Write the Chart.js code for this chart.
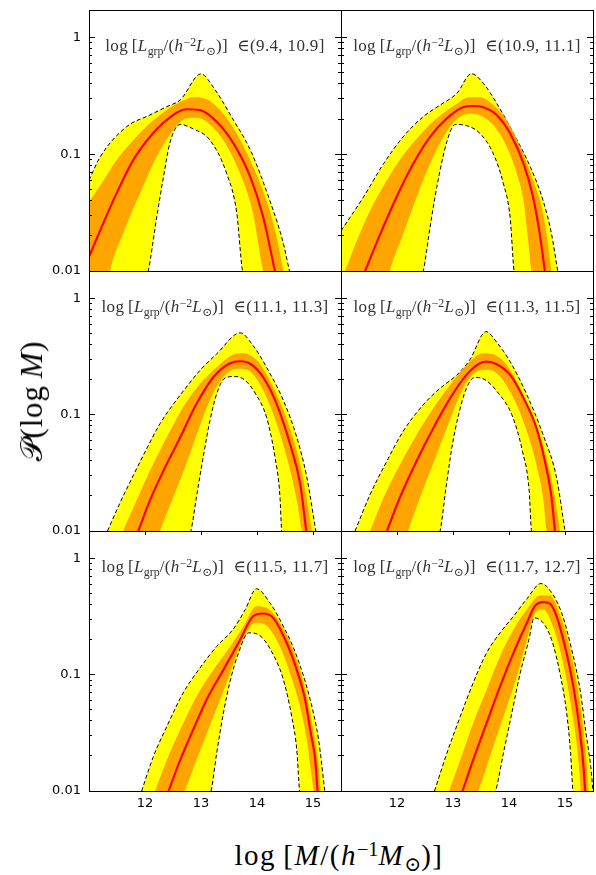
<!DOCTYPE html>
<html>
<head>
<meta charset="utf-8">
<script src="https://cdn.jsdelivr.net/npm/chart.js@4.4.0/dist/chart.umd.min.js"></script>
<style>
  html, body { margin: 0; padding: 0; background: #fff; overflow: hidden; }
  body { width: 596px; height: 875px; position: relative; }
  .panel { position: absolute; }
  .note {
    position: absolute; transform: translate(-50%, -50%);
    font-family: 'Liberation Serif', 'DejaVu Serif', serif; font-size: 17px;
    letter-spacing: 0.35px; color: #333; white-space: nowrap;
  }
  .note sub, .note sup, .xtitle sub, .xtitle sup, .ytitle sub {
    font-size: 70%; line-height: 0; position: relative; vertical-align: baseline; letter-spacing: 0;
  }
  sub { top: 0.3em; }
  sup { top: -0.45em; }
  .ytitle {
    position: absolute; left: 32px; top: 401px;
    transform: translate(-50%, -50%) rotate(-90deg);
    font-family: 'Liberation Serif', 'DejaVu Serif', serif; font-size: 31px;
    letter-spacing: 0.8px; white-space: nowrap; color: #000;
  }
  .xtitle {
    position: absolute; left: 339px; top: 855px;
    transform: translate(-50%, -50%);
    font-family: 'Liberation Serif', 'DejaVu Serif', serif; font-size: 29px;
    letter-spacing: 1.5px; white-space: nowrap; color: #000;
  }
</style>
</head>
<body>
<script>
// tick labels
const massTicks = [12, 13, 14, 15];
const probLabels = [0.01, 0.1, 1];
const lumBins = ['(9.4, 10.9]', '(10.9, 11.1]', '(11.1, 11.3]', '(11.3, 11.5]', '(11.5, 11.7]', '(11.7, 12.7]'];

// [log M, P] pairs; points below 0.01 sit under the axis
const p1YellowHi = [[11.00,0.060],[11.20,0.095],[11.67,0.172],[12.09,0.217],[12.39,0.256],[12.63,0.292],[13.00,0.488],[13.22,0.375],[13.58,0.196],[13.88,0.109],[14.23,0.040],[14.46,0.018],[14.58,0.010]];
const p1YellowLo = [[11.0,0.0001],[12.06,0.010],[12.21,0.029],[12.33,0.064],[12.45,0.128],[12.63,0.180],[12.86,0.165],[13.16,0.132],[13.46,0.068],[13.64,0.031],[13.74,0.010],[15.5,0.0001]];
const p1OrangeHi = [[11.00,0.039],[11.20,0.054],[11.49,0.089],[11.79,0.132],[12.09,0.184],[12.39,0.239],[12.68,0.288],[12.86,0.308],[13.10,0.296],[13.34,0.239],[13.58,0.167],[13.88,0.089],[14.17,0.040],[14.35,0.0196],[14.47,0.010]];
const p1OrangeLo = [[11.0,0.001],[11.375,0.010],[11.61,0.0209],[11.91,0.046],[12.21,0.095],[12.48,0.155],[12.68,0.197],[12.88,0.205],[13.08,0.193],[13.40,0.132],[13.70,0.068],[13.93,0.031],[14.11,0.010],[15.5,0.0001]];
const p1Median = [[11.00,0.0132],[11.20,0.0223],[11.49,0.046],[11.79,0.089],[12.09,0.141],[12.39,0.197],[12.74,0.243],[12.98,0.239],[13.28,0.190],[13.58,0.124],[13.88,0.064],[14.11,0.029],[14.32,0.010]];

const p2YellowHi = [[11.00,0.0221],[11.40,0.0429],[11.76,0.083],[12.11,0.141],[12.47,0.210],[12.77,0.264],[13.07,0.333],[13.33,0.490],[13.54,0.406],[13.78,0.273],[14.08,0.151],[14.38,0.078],[14.61,0.040],[14.76,0.0207],[14.87,0.010]];
const p2YellowLo = [[11.0,0.0001],[12.47,0.010],[12.59,0.0236],[12.71,0.052],[12.89,0.128],[13.04,0.180],[13.24,0.176],[13.48,0.151],[13.72,0.101],[13.90,0.056],[14.02,0.0288],[14.09,0.010],[15.5,0.0001]];
const p2OrangeHi = [[11.0,0.0085],[11.07,0.010],[11.28,0.018],[11.52,0.033],[11.82,0.060],[12.11,0.098],[12.41,0.146],[12.71,0.203],[13.01,0.259],[13.30,0.308],[13.48,0.308],[13.72,0.264],[13.96,0.196],[14.20,0.116],[14.43,0.060],[14.61,0.031],[14.76,0.010]];
const p2OrangeLo = [[11.0,0.0001],[11.875,0.010],[12.11,0.0207],[12.35,0.0429],[12.59,0.083],[12.83,0.141],[13.07,0.200],[13.30,0.222],[13.48,0.215],[13.72,0.178],[13.96,0.116],[14.14,0.068],[14.26,0.040],[14.33,0.0207],[14.40,0.010],[15.5,0.0001]];
const p2Median = [[11.43,0.010],[11.70,0.0207],[11.99,0.0429],[12.29,0.083],[12.59,0.141],[12.89,0.203],[13.18,0.253],[13.36,0.259],[13.54,0.253],[13.78,0.217],[14.02,0.151],[14.26,0.083],[14.43,0.0429],[14.55,0.0207],[14.64,0.010]];

const p3YellowHi = [[11.33,0.010],[11.55,0.0173],[11.79,0.030],[12.03,0.051],[12.27,0.084],[12.51,0.124],[12.74,0.173],[12.98,0.240],[13.28,0.333],[13.70,0.505],[13.93,0.393],[14.17,0.256],[14.47,0.133],[14.71,0.064],[14.89,0.029],[15.05,0.010]];
const p3YellowLo = [[11.0,0.0001],[12.82,0.010],[12.92,0.0197],[13.04,0.0434],[13.16,0.089],[13.28,0.151],[13.43,0.207],[13.61,0.213],[13.79,0.197],[13.99,0.147],[14.17,0.095],[14.32,0.0434],[14.41,0.0197],[14.44,0.010],[15.5,0.0001]];
const p3OrangeHi = [[11.61,0.010],[11.85,0.0184],[12.09,0.033],[12.39,0.064],[12.68,0.116],[12.98,0.184],[13.28,0.256],[13.58,0.329],[13.76,0.338],[14.00,0.292],[14.23,0.197],[14.47,0.109],[14.71,0.049],[14.86,0.0225],[14.98,0.010]];
const p3OrangeLo = [[11.0,0.0001],[12.27,0.010],[12.51,0.0197],[12.74,0.038],[12.95,0.073],[13.13,0.124],[13.31,0.184],[13.49,0.232],[13.67,0.248],[13.85,0.240],[14.05,0.184],[14.29,0.102],[14.53,0.0434],[14.71,0.0184],[14.80,0.010],[15.5,0.0001]];
const p3Median = [[11.88,0.010],[12.09,0.0184],[12.33,0.033],[12.63,0.064],[12.92,0.124],[13.22,0.210],[13.52,0.277],[13.70,0.288],[13.88,0.274],[14.11,0.210],[14.35,0.124],[14.59,0.056],[14.77,0.0256],[14.88,0.010]];

const p4YellowHi = [[11.25,0.010],[11.52,0.0206],[11.82,0.040],[12.11,0.072],[12.47,0.122],[12.77,0.169],[13.07,0.220],[13.30,0.296],[13.59,0.518],[13.78,0.420],[14.02,0.286],[14.32,0.148],[14.61,0.067],[14.85,0.0287],[15.00,0.010]];
const p4YellowLo = [[11.0,0.0001],[12.77,0.010],[12.875,0.0235],[12.98,0.052],[13.10,0.100],[13.24,0.169],[13.39,0.209],[13.57,0.200],[13.81,0.153],[14.05,0.100],[14.24,0.0485],[14.36,0.022],[14.40,0.010],[15.5,0.0001]];
const p4OrangeHi = [[11.52,0.010],[11.76,0.0193],[12.05,0.037],[12.35,0.067],[12.65,0.114],[12.95,0.181],[13.24,0.268],[13.54,0.338],[13.72,0.331],[13.96,0.268],[14.20,0.169],[14.43,0.094],[14.67,0.0425],[14.82,0.0193],[14.91,0.010]];
const p4OrangeLo = [[11.0,0.0001],[12.20,0.010],[12.41,0.0193],[12.65,0.0385],[12.89,0.077],[13.10,0.139],[13.27,0.200],[13.45,0.238],[13.63,0.243],[13.84,0.213],[14.08,0.139],[14.32,0.072],[14.49,0.037],[14.61,0.0193],[14.67,0.010],[15.5,0.0001]];
const p4Median = [[11.82,0.010],[12.05,0.0193],[12.35,0.040],[12.65,0.077],[12.95,0.139],[13.24,0.220],[13.48,0.277],[13.60,0.286],[13.78,0.272],[14.02,0.220],[14.26,0.139],[14.49,0.077],[14.64,0.040],[14.76,0.0193],[14.82,0.010]];

const p5YellowHi = [[11.94,0.010],[12.15,0.0198],[12.39,0.0359],[12.68,0.0695],[12.98,0.114],[13.28,0.175],[13.58,0.248],[13.79,0.363],[13.99,0.548],[14.23,0.415],[14.47,0.261],[14.71,0.144],[14.95,0.061],[15.10,0.0275],[15.21,0.010]];
const p5YellowLo = [[11.0,0.0001],[13.18,0.010],[13.28,0.0211],[13.40,0.0467],[13.52,0.088],[13.67,0.154],[13.85,0.229],[14.05,0.217],[14.29,0.149],[14.47,0.091],[14.62,0.0437],[14.71,0.0226],[14.76,0.010],[15.5,0.0001]];
const p5OrangeHi = [[12.18,0.010],[12.39,0.0185],[12.63,0.0336],[12.92,0.065],[13.22,0.110],[13.52,0.175],[13.76,0.261],[13.99,0.388],[14.17,0.376],[14.41,0.279],[14.62,0.175],[14.80,0.097],[14.95,0.0467],[15.07,0.0211],[15.14,0.010]];
const p5OrangeLo = [[11.0,0.0001],[12.71,0.010],[12.92,0.0185],[13.13,0.0336],[13.34,0.061],[13.52,0.103],[13.67,0.164],[13.82,0.236],[13.99,0.279],[14.17,0.264],[14.41,0.175],[14.59,0.103],[14.77,0.053],[14.89,0.0275],[14.96,0.0152],[15.01,0.010],[15.5,0.0001]];
const p5Median = [[12.42,0.010],[12.63,0.0185],[12.86,0.0336],[13.10,0.061],[13.40,0.110],[13.70,0.200],[13.93,0.318],[14.11,0.336],[14.29,0.308],[14.53,0.188],[14.71,0.110],[14.86,0.061],[14.96,0.0314],[15.04,0.0185],[15.08,0.010]];

const p6YellowHi = [[12.67,0.010],[12.89,0.0211],[13.13,0.0437],[13.36,0.085],[13.60,0.154],[13.84,0.229],[14.08,0.318],[14.32,0.449],[14.57,0.608],[14.73,0.533],[14.94,0.340],[15.12,0.164],[15.27,0.074],[15.375,0.0314],[15.46,0.0162],[15.50,0.010]];
const p6YellowLo = [[11.0,0.0001],[13.76,0.010],[13.90,0.0211],[14.05,0.0467],[14.20,0.103],[14.35,0.195],[14.45,0.308],[14.61,0.279],[14.76,0.200],[14.91,0.103],[15.03,0.0467],[15.10,0.0211],[15.14,0.010],[15.6,0.0001]];
const p6OrangeHi = [[12.93,0.010],[13.13,0.0185],[13.36,0.0383],[13.60,0.074],[13.84,0.144],[14.08,0.244],[14.32,0.363],[14.55,0.480],[14.73,0.480],[14.91,0.329],[15.08,0.175],[15.22,0.079],[15.33,0.0336],[15.39,0.0162],[15.42,0.010]];
const p6OrangeLo = [[11.0,0.0001],[13.45,0.010],[13.66,0.0198],[13.90,0.0437],[14.14,0.097],[14.32,0.200],[14.46,0.336],[14.61,0.363],[14.76,0.279],[14.94,0.144],[15.09,0.061],[15.20,0.0275],[15.26,0.0142],[15.28,0.010],[15.6,0.0001]];
const p6Median = [[13.17,0.010],[13.36,0.0185],[13.60,0.0383],[13.84,0.079],[14.08,0.154],[14.32,0.279],[14.46,0.388],[14.61,0.421],[14.73,0.409],[14.85,0.318],[15.00,0.175],[15.15,0.079],[15.27,0.0314],[15.33,0.0162],[15.36,0.010]];

const panels = [
  [p1YellowHi, p1YellowLo, p1OrangeHi, p1OrangeLo, p1Median],
  [p2YellowHi, p2YellowLo, p2OrangeHi, p2OrangeLo, p2Median],
  [p3YellowHi, p3YellowLo, p3OrangeHi, p3OrangeLo, p3Median],
  [p4YellowHi, p4YellowLo, p4OrangeHi, p4OrangeLo, p4Median],
  [p5YellowHi, p5YellowLo, p5OrangeHi, p5OrangeLo, p5Median],
  [p6YellowHi, p6YellowLo, p6OrangeHi, p6OrangeLo, p6Median],
];

// layout of the 3x2 grid (plot boxes in page pixels)
const COL_LEFT = [89, 341];
const PANEL_W = 252;
const ROW_TOP = [10, 271, 531];
const ROW_H = [261, 260, 260];
const AXIS_W = 60, PAD = 6, XAXIS_H = 30;

const tickFont = {family: 'DejaVu Sans', size: 13};
const probMinor = [];
for (const d of [0.01, 0.1]) {
  for (let k = 2; k <= 9; k++) probMinor.push(+(d * k).toFixed(3));
}

const toXY = arr => arr.map(([x, y]) => ({x, y}));

function logAxis(position, weight, ticks, len, showLabels, border) {
  return {
    type: 'logarithmic', min: 0.01, max: 1.72, position, weight,
    afterBuildTicks: ax => { ax.ticks = ticks.map(v => ({value: v})); },
    afterFit: ax => {
      ax.width = (position === 'left' && weight) ? AXIS_W : 0;
      ax.paddingTop = 0; ax.paddingBottom = 0;
    },
    grid: {drawOnChartArea: false, tickLength: -len, color: '#000', z: 1},
    border: {display: border, color: '#000', z: 1},
    ticks: {display: showLabels, autoSkip: false, padding: 14, color: '#000', font: tickFont,
            callback: v => String(v)}
  };
}

function makePanel(idx) {
  const col = idx % 2, row = Math.floor(idx / 2);
  const [yHi, yLo, oHi, oLo, med] = panels[idx];

  const wrap = document.createElement('div');
  wrap.className = 'panel';
  wrap.style.left = (COL_LEFT[col] - AXIS_W) + 'px';
  wrap.style.top = (ROW_TOP[row] - PAD) + 'px';
  wrap.style.width = (PANEL_W + AXIS_W + PAD) + 'px';
  wrap.style.height = (ROW_H[row] + PAD + XAXIS_H) + 'px';
  const canvas = document.createElement('canvas');
  wrap.appendChild(canvas);
  document.body.appendChild(wrap);

  new Chart(canvas, {
    type: 'line',
    data: {
      datasets: [
        {data: toXY(yLo), borderColor: '#000', borderWidth: 1, borderDash: [4, 2.5], fill: false, order: 1},
        {data: toXY(yHi), borderColor: '#000', borderWidth: 1, borderDash: [4, 2.5],
         backgroundColor: '#ffff00', fill: 0, order: 4},
        {data: toXY(oLo), borderColor: 'rgba(0,0,0,0)', borderWidth: 1, fill: false, order: 3},
        {data: toXY(oHi), borderColor: 'rgba(0,0,0,0)', borderWidth: 1,
         backgroundColor: '#ffa500', fill: 2, order: 2},
        {data: toXY(med), borderColor: '#ff0000', borderWidth: 2.2, fill: false, order: 0},
      ]
    },
    options: {
      responsive: true,
      maintainAspectRatio: false,
      animation: false,
      layout: {padding: {left: 0, top: PAD, right: PAD, bottom: 0}},
      datasets: {line: {clip: 0}},
      elements: {point: {radius: 0}, line: {cubicInterpolationMode: 'monotone'}},
      plugins: {legend: {display: false}, tooltip: {enabled: false}},
      scales: {
        x: {
          type: 'linear', min: 11, max: 15.5, position: 'bottom',
          afterBuildTicks: ax => { ax.ticks = massTicks.map(v => ({value: v})); },
          afterFit: ax => { ax.height = XAXIS_H; ax.paddingLeft = 0; ax.paddingRight = 0; },
          grid: {display: row === 1, drawTicks: row === 1, drawOnChartArea: false, tickLength: 4, color: '#000', z: 1},
          border: {display: true, color: '#000', z: 1},
          ticks: {display: row === 2, autoSkip: false, maxRotation: 0, padding: 5, color: '#000', font: tickFont}
        },
        xt: {
          type: 'linear', min: 11, max: 15.5, position: 'top',
          afterFit: ax => { ax.height = 0; },
          grid: {display: false, drawTicks: false},
          border: {display: true, color: '#000', z: 1},
          ticks: {display: false}
        },
        y: logAxis('left', 1, probLabels, 6, col === 0, true),
        yMinorL: logAxis('left', 0, probMinor, 3, false, false),
        yr: logAxis('right', 1, probLabels, 6, false, true),
        yMinorR: logAxis('right', 0, probMinor, 3, false, false),
      }
    }
  });

  const note = document.createElement('div');
  note.className = 'note';
  note.innerHTML = 'log&thinsp;[<i>L</i><sub>grp</sub>/(<i>h</i><sup>&minus;2</sup><i>L</i><sub>&#8857;</sub>)]&nbsp;&nbsp;&isin;' + lumBins[idx];
  note.style.left = (COL_LEFT[col] + PANEL_W / 2) + 'px';
  note.style.top = (ROW_TOP[row] + 35) + 'px';
  document.body.appendChild(note);
}

for (let i = 0; i < panels.length; i++) makePanel(i);
</script>
<div class="ytitle">&#x1D4AB;(log&thinsp;<i>M</i>)</div>
<div class="xtitle">log&thinsp;[<i>M</i>/(<i>h</i><sup>&minus;1</sup><i>M</i><sub>&#8857;</sub>)]</div>
</body>
</html>
